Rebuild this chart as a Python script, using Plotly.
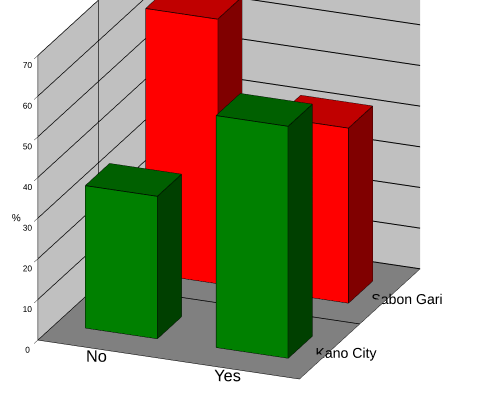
import plotly.graph_objects as go

# Categories and values (% of respondents)
answers = ["No", "Yes"]
sites = ["Kano City", "Sabon Gari"]
kano_city = [35, 57]
sabon_gari = [65, 43]

# face colours per site: front, side, top
palette = {
    "Kano City": ("#008000", "#004000", "#006000"),
    "Sabon Gari": ("#ff0000", "#800000", "#c00000"),
}

BAR_W = 0.55   # width along the answer axis
BAR_D = 0.4    # depth along the site axis


def box_mesh(xc, yc, h, colors):
    x0, x1 = xc - BAR_W / 2, xc + BAR_W / 2
    y0, y1 = yc - BAR_D / 2, yc + BAR_D / 2
    xs = [x0, x1, x1, x0, x0, x1, x1, x0]
    ys = [y0, y0, y1, y1, y0, y0, y1, y1]
    zs = [0, 0, 0, 0, h, h, h, h]
    front, side, top = colors
    tris = [
        (0, 1, 2, top), (0, 2, 3, top),        # bottom
        (4, 5, 6, top), (4, 6, 7, top),        # top
        (0, 1, 5, front), (0, 5, 4, front),    # front
        (3, 2, 6, front), (3, 6, 7, front),    # back
        (1, 2, 6, side), (1, 6, 5, side),      # right
        (0, 3, 7, side), (0, 7, 4, side),      # left
    ]
    mesh = go.Mesh3d(
        x=xs, y=ys, z=zs,
        i=[t[0] for t in tris], j=[t[1] for t in tris], k=[t[2] for t in tris],
        facecolor=[t[3] for t in tris],
        flatshading=True,
        lighting=dict(ambient=1, diffuse=0, specular=0, roughness=1, fresnel=0),
        hoverinfo="skip", showscale=False,
    )
    # outline edges
    ex, ey, ez = [], [], []
    edges = [(0, 1), (1, 2), (2, 3), (3, 0), (4, 5), (5, 6), (6, 7), (7, 4),
             (0, 4), (1, 5), (2, 6), (3, 7)]
    for a, b in edges:
        ex += [xs[a], xs[b], None]
        ey += [ys[a], ys[b], None]
        ez += [zs[a], zs[b], None]
    outline = go.Scatter3d(x=ex, y=ey, z=ez, mode="lines",
                           line=dict(color="black", width=1.5),
                           hoverinfo="skip", showlegend=False)
    return mesh, outline


fig = go.Figure()
series = {"Kano City": kano_city, "Sabon Gari": sabon_gari}
for si, site in enumerate(sites):
    for ai, val in enumerate(series[site]):
        m, o = box_mesh(ai, si, val, palette[site])
        fig.add_trace(m)
        fig.add_trace(o)

# divider between the two site rows, across the floor and up the side wall
fig.add_trace(go.Scatter3d(x=[1.5, -0.5, -0.5], y=[0.5, 0.5, 0.5], z=[0, 0, 70],
                           mode="lines", line=dict(color="black", width=1.5),
                           hoverinfo="skip", showlegend=False))

axis_common = dict(showspikes=False, showline=True, linecolor="black",
                   zeroline=False, showbackground=True)

# viewing direction and look-at point of the camera
view_dir = (0.67, -1.66, 0.71)
look_at = (0.076, 0.03, -0.21)

fig.update_layout(
    width=491, height=403,
    margin=dict(l=0, r=0, t=0, b=0),
    paper_bgcolor="white",
    showlegend=False,
    font=dict(family="Liberation Sans, Arial, sans-serif", color="black"),
    scene=dict(
        xaxis=dict(axis_common, range=[-0.5, 1.5], tickvals=[0, 1], ticktext=answers,
                   showgrid=False, backgroundcolor="#c0c0c0", title=dict(text=""),
                   tickfont=dict(size=14), tickangle=0, ticks=""),
        yaxis=dict(axis_common, range=[-0.5, 1.5], tickvals=[0, 1], ticktext=sites,
                   showgrid=False, backgroundcolor="#c0c0c0", title=dict(text=""),
                   tickfont=dict(size=13), tickangle=0, ticks=""),
        zaxis=dict(axis_common, range=[0, 70], dtick=10, showgrid=True,
                   gridcolor="black", backgroundcolor="#808080",
                   ticks="outside", tickcolor="black", tickangle=0,
                   title=dict(text="%", font=dict(size=10)), tickfont=dict(size=10)),
        aspectmode="manual",
        aspectratio=dict(x=1.4, y=1.6, z=1.52),
        camera=dict(
            eye=dict(x=look_at[0] + view_dir[0], y=look_at[1] + view_dir[1],
                     z=look_at[2] + view_dir[2]),
            up=dict(x=0, y=0, z=1),
            center=dict(x=look_at[0], y=look_at[1], z=look_at[2]),
            projection=dict(type="orthographic")),
    ),
)

fig.write_html("out.html")
